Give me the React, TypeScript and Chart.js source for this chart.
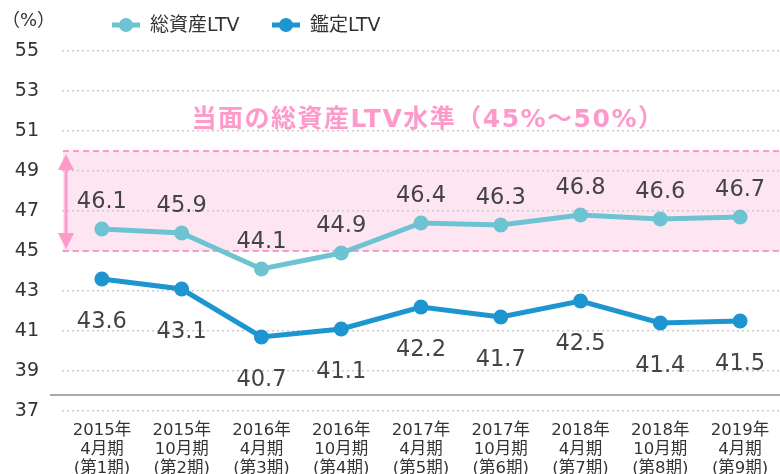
import React, { useEffect, useRef } from "react";
import { Chart, registerables } from "chart.js";

Chart.register(...registerables);

const categories: string[][] = [
  ["2015年", "4月期", "(第1期)"],
  ["2015年", "10月期", "(第2期)"],
  ["2016年", "4月期", "(第3期)"],
  ["2016年", "10月期", "(第4期)"],
  ["2017年", "4月期", "(第5期)"],
  ["2017年", "10月期", "(第6期)"],
  ["2018年", "4月期", "(第7期)"],
  ["2018年", "10月期", "(第8期)"],
  ["2019年", "4月期", "(第9期)"],
];
const totalLTV = [46.1, 45.9, 44.1, 44.9, 46.4, 46.3, 46.8, 46.6, 46.7];
const appraisalLTV = [43.6, 43.1, 40.7, 41.1, 42.2, 41.7, 42.5, 41.4, 41.5];
const seriesNames = ["総資産LTV", "鑑定LTV"];
const seriesColors = ["#6dc3d2", "#1d95d0"];
const yMin = 37;
const yMax = 55;
const yStep = 2;
const bandLow = 45;
const bandHigh = 50;
const baseLineValue = 37.8;
const bandTitle = "当面の総資産LTV水準（45%～50%）";
const bandTitleValue = 51.55;
const unitLabel = "（%）";

const FONT = "'DejaVu Sans', 'Noto Sans CJK JP', sans-serif";
const PINK = "#ff99cc";

const decorPlugin = {
  id: "decor",
  beforeDraw(chart: any) {
    const { ctx, chartArea, scales } = chart;
    const y = scales.y;
    const top = y.getPixelForValue(bandHigh);
    const bot = y.getPixelForValue(bandLow);
    const left = chartArea.left + 1;
    const right = chartArea.right;
    ctx.save();
    ctx.fillStyle = "#fde6f2";
    ctx.fillRect(left, top, right - left, bot - top);
    ctx.restore();
  },
  beforeDatasetsDraw(chart: any) {
    const { ctx, chartArea, scales } = chart;
    const y = scales.y;
    const top = y.getPixelForValue(bandHigh);
    const bot = y.getPixelForValue(bandLow);
    const left = chartArea.left + 1;
    const right = chartArea.right;
    ctx.save();
    ctx.strokeStyle = PINK;
    ctx.lineWidth = 2;
    ctx.setLineDash([6, 4]);
    ctx.beginPath();
    ctx.moveTo(left, top);
    ctx.lineTo(right, top);
    ctx.moveTo(left, bot);
    ctx.lineTo(right, bot);
    ctx.stroke();
    ctx.setLineDash([]);
    // arrow
    const ax = left + 3;
    const t = top + 3;
    const b = bot - 2;
    ctx.lineWidth = 3;
    ctx.beginPath();
    ctx.moveTo(ax, t + 10);
    ctx.lineTo(ax, b - 10);
    ctx.stroke();
    ctx.fillStyle = PINK;
    ctx.beginPath();
    ctx.moveTo(ax, t);
    ctx.lineTo(ax - 8, t + 16);
    ctx.lineTo(ax + 8, t + 16);
    ctx.closePath();
    ctx.fill();
    ctx.beginPath();
    ctx.moveTo(ax, b);
    ctx.lineTo(ax - 8, b - 16);
    ctx.lineTo(ax + 8, b - 16);
    ctx.closePath();
    ctx.fill();
    // title
    ctx.font = `bold 25px ${FONT}`;
    (ctx as any).letterSpacing = "1.5px";
    ctx.textAlign = "center";
    ctx.textBaseline = "middle";
    ctx.fillText(bandTitle, 428, y.getPixelForValue(bandTitleValue));
    (ctx as any).letterSpacing = "0px";
    // base line
    const by = y.getPixelForValue(baseLineValue);
    ctx.strokeStyle = "#aaaaaa";
    ctx.lineWidth = 2;
    ctx.beginPath();
    ctx.moveTo(chartArea.left - 12, by);
    ctx.lineTo(right, by);
    ctx.stroke();
    ctx.restore();
  },
  afterDatasetsDraw(chart: any) {
    const { ctx } = chart;
    ctx.save();
    ctx.font = `22.5px ${FONT}`;
    ctx.fillStyle = "#444444";
    ctx.textAlign = "center";
    ctx.textBaseline = "middle";
    chart.data.datasets.forEach((ds: any, i: number) => {
      const meta = chart.getDatasetMeta(i);
      meta.data.forEach((pt: any, j: number) => {
        const v = ds.data[j];
        const dy = i === 0 ? -27 : 43;
        ctx.fillText(v.toFixed(1), pt.x, pt.y + dy);
      });
    });
    ctx.restore();
  },
  afterDraw(chart: any) {
    const { ctx } = chart;
    ctx.save();
    ctx.font = `18px ${FONT}`;
    ctx.fillStyle = "#333333";
    ctx.textAlign = "left";
    ctx.textBaseline = "middle";
    ctx.fillText(unitLabel, 2, 21);
    // legend
    const items = [
      { x: 112, name: seriesNames[0], color: seriesColors[0] },
      { x: 272, name: seriesNames[1], color: seriesColors[1] },
    ];
    items.forEach((it) => {
      const cy = 25;
      ctx.strokeStyle = it.color;
      ctx.lineWidth = 5;
      ctx.beginPath();
      ctx.moveTo(it.x, cy);
      ctx.lineTo(it.x + 28, cy);
      ctx.stroke();
      ctx.fillStyle = it.color;
      ctx.beginPath();
      ctx.arc(it.x + 14, cy, 7, 0, Math.PI * 2);
      ctx.fill();
      ctx.fillStyle = "#333333";
      ctx.font = `19px ${FONT}`;
      ctx.fillText(it.name, it.x + 38, cy + 1);
    });
    ctx.restore();
  },
};

export default function App() {
  const ref = useRef<HTMLCanvasElement>(null);
  useEffect(() => {
    if (!ref.current) return;
    const chart = new Chart(ref.current, {
      type: "line",
      data: {
        labels: categories,
        datasets: [
          {
            label: seriesNames[0],
            data: totalLTV,
            borderColor: seriesColors[0],
            backgroundColor: seriesColors[0],
            borderWidth: 5,
            pointRadius: 7.5,
            pointHoverRadius: 7.5,
            pointBorderWidth: 0,
            tension: 0,
          },
          {
            label: seriesNames[1],
            data: appraisalLTV,
            borderColor: seriesColors[1],
            backgroundColor: seriesColors[1],
            borderWidth: 5,
            pointRadius: 7.5,
            pointHoverRadius: 7.5,
            pointBorderWidth: 0,
            tension: 0,
          },
        ],
      },
      options: {
        animation: false,
        responsive: false,
        layout: { autoPadding: false, padding: { top: 51, right: 0, bottom: 0, left: 0 } },
        plugins: {
          legend: { display: false },
          tooltip: { enabled: false },
        },
        scales: {
          x: {
            offset: true,
            grid: { display: false, drawTicks: false },
            border: { display: false },
            ticks: {
              color: "#333333",
              font: { family: FONT, size: 16.5, lineHeight: 1.16 },
              padding: 10,
              maxRotation: 0,
              autoSkip: false,
            },
            afterFit(scale: any) {
              scale.height = 63;
              scale.paddingLeft = 0;
              scale.paddingRight = 0;
            },
          },
          y: {
            min: yMin,
            max: yMax,
            grid: {
              color: "#cccccc",
              lineWidth: 1.5,
              drawTicks: false,
            },
            border: { display: false, dash: [2, 3] },
            ticks: {
              stepSize: yStep,
              color: "#333333",
              font: { family: FONT, size: 19 },
              padding: 23,
            },
            afterFit(scale: any) {
              scale.width = 62;
              scale.paddingTop = 0;
              scale.paddingBottom = 0;
            },
          },
        },
      },
      plugins: [decorPlugin],
    } as any);
    return () => chart.destroy();
  }, []);
  return (
    <div style={{ position: "absolute", left: 0, top: 0, width: 780, height: 474 }}>
      <canvas ref={ref} width={780} height={474} style={{ display: "block" }} />
    </div>
  );
}
